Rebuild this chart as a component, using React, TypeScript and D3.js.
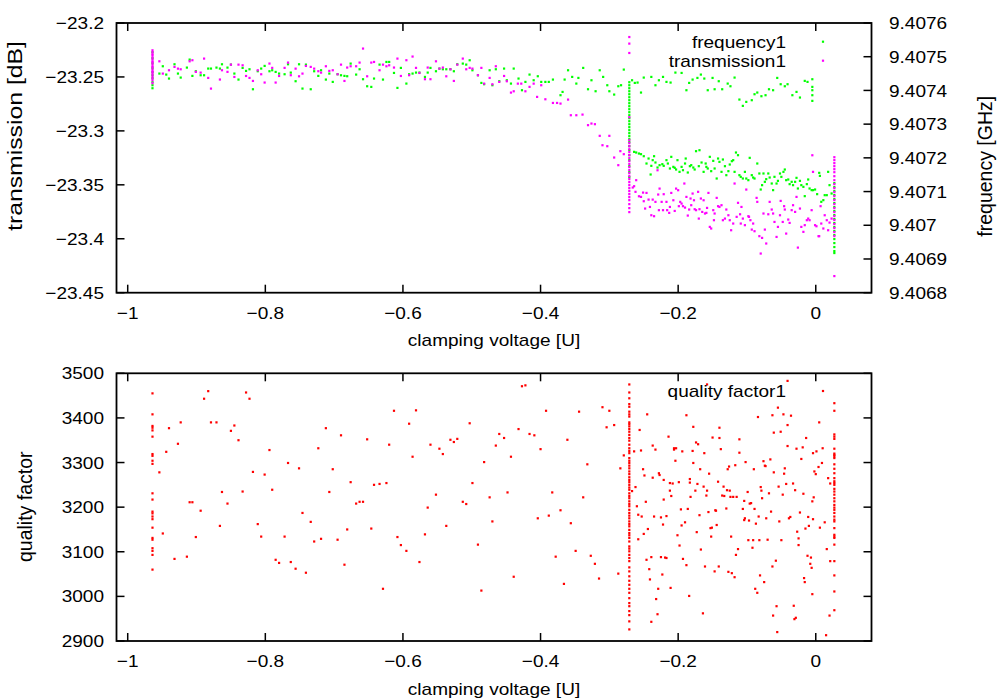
import React from "react";
import * as d3 from "d3";

// ---------- tick values ----------
const xTicks = [-1, -0.8, -0.6, -0.4, -0.2, 0];
const transTicks = [-23.2, -23.25, -23.3, -23.35, -23.4, -23.45];
const freqTicks = [9.4076, 9.4075, 9.4074, 9.4073, 9.4072, 9.4071, 9.407, 9.4069, 9.4068];
const qualityTicks = [3500, 3400, 3300, 3200, 3100, 3000, 2900];

// ---------- dense measurement columns (x positions) ----------
const columnX = [-0.964, -0.271, 0.027];

// ---------- quality factor ----------
const qualityColumns: number[][] = [
  [3455, 3408, 3382, 3378, 3372, 3358, 3319, 3315, 3304, 3297, 3231, 3217, 3190, 3186, 3179, 3173, 3154, 3131, 3127, 3108, 3102, 3093, 3060],
  [3475, 3457, 3444, 3431, 3425, 3414, 3408, 3403, 3390, 3386, 3381, 3375, 3369, 3362, 3355, 3349, 3340, 3332, 3326, 3321, 3310, 3304, 3299, 3293, 3287, 3280, 3274, 3267, 3261, 3256, 3250, 3244, 3239, 3231, 3225, 3220, 3213, 3207, 3202, 3194, 3187, 3181, 3175, 3168, 3162, 3157, 3149, 3142, 3137, 3131, 3123, 3112, 3107, 3101, 3093, 3086, 3079, 3065, 3056, 3045, 3035, 3026, 3017, 3008, 2996, 2985, 2978, 2967, 2958, 2944, 2926],
  [3433, 3416, 3363, 3358, 3353, 3331, 3320, 3317, 3314, 3310, 3296, 3286, 3276, 3265, 3258, 3254, 3250, 3241, 3235, 3228, 3220, 3213, 3205, 3199, 3194, 3187, 3179, 3172, 3168, 3153, 3138, 3134, 3131, 3116, 3079, 3047, 3011, 2969],
];

const qualityScatter: [number, number][] = [
  [-0.954, 3278], [-0.949, 3141], [-0.944, 3324], [-0.94, 3377], [-0.932, 3084], [-0.927, 3342], [-0.923, 3390], [-0.914, 3089], [-0.91, 3211], [-0.906, 3211],
  [-0.901, 3133], [-0.894, 3192], [-0.889, 3443], [-0.883, 3460], [-0.879, 3390], [-0.871, 3390], [-0.866, 3158], [-0.863, 3234], [-0.855, 3208], [-0.85, 3371],
  [-0.845, 3383], [-0.839, 3350], [-0.833, 3235], [-0.828, 3457], [-0.823, 3443], [-0.818, 3279], [-0.811, 3162], [-0.806, 3134], [-0.801, 3273], [-0.794, 3328],
  [-0.79, 3239], [-0.785, 3082], [-0.78, 3075], [-0.772, 3134], [-0.767, 3299], [-0.763, 3077], [-0.756, 3062], [-0.751, 3287], [-0.746, 3187], [-0.741, 3053],
  [-0.734, 3167], [-0.729, 3123], [-0.723, 3332], [-0.719, 3129], [-0.712, 3377], [-0.707, 3234], [-0.702, 3285], [-0.695, 3127], [-0.69, 3361], [-0.685, 3071],
  [-0.681, 3150], [-0.676, 3256], [-0.668, 3208], [-0.663, 3212], [-0.658, 3212], [-0.652, 3352], [-0.646, 3152], [-0.642, 3250], [-0.634, 3252], [-0.629, 3017],
  [-0.624, 3254], [-0.62, 3340], [-0.613, 3416], [-0.608, 3133], [-0.603, 3115], [-0.595, 3102], [-0.591, 3387], [-0.586, 3313], [-0.581, 3417], [-0.576, 3077],
  [-0.568, 3139], [-0.564, 3199], [-0.56, 3340], [-0.552, 3228], [-0.547, 3331], [-0.542, 3319], [-0.537, 3158], [-0.531, 3351], [-0.526, 3346], [-0.521, 3353],
  [-0.513, 3212], [-0.508, 3207], [-0.503, 3388], [-0.499, 3254], [-0.491, 3116], [-0.486, 3013], [-0.482, 3301], [-0.474, 3222],
  [-0.47, 3168], [-0.465, 3338], [-0.46, 3364], [-0.453, 3355], [-0.448, 3233], [-0.443, 3313], [-0.439, 3044], [-0.432, 3375], [-0.427, 3471], [-0.422, 3473],
  [-0.416, 3364], [-0.409, 3361], [-0.404, 3175], [-0.4, 3330], [-0.392, 3416], [-0.388, 3181], [-0.383, 3233], [-0.378, 3089], [-0.371, 3193], [-0.366, 3028],
  [-0.361, 3351], [-0.356, 3164], [-0.349, 3102], [-0.344, 3414], [-0.338, 3222], [-0.332, 3296], [-0.327, 3091], [-0.321, 3073], [-0.315, 3040], [-0.31, 3424],
  [-0.304, 3379], [-0.3, 3416], [-0.293, 3384], [-0.287, 3051], [-0.284, 3287], [-0.279, 3316],
  [-0.267, 3236], [-0.264, 3325], [-0.262, 3245], [-0.26, 3202], [-0.258, 3128], [-0.256, 3373], [-0.258, 3183], [-0.254, 3327], [-0.253, 3179], [-0.251, 3285],
  [-0.249, 3271], [-0.25, 3140], [-0.247, 3212], [-0.246, 3082], [-0.245, 3408], [-0.244, 3151], [-0.242, 3061], [-0.239, 3088], [-0.241, 3038], [-0.239, 2943],
  [-0.237, 3266], [-0.237, 3338], [-0.235, 3179], [-0.233, 3329], [-0.232, 2994], [-0.23, 2960], [-0.229, 3017], [-0.228, 3276], [-0.227, 3272], [-0.225, 3088],
  [-0.225, 3177], [-0.223, 3049], [-0.222, 3161], [-0.221, 3261], [-0.221, 3217], [-0.219, 3087], [-0.217, 3086], [-0.217, 3180], [-0.214, 3358], [-0.212, 3237],
  [-0.212, 3254], [-0.211, 3019], [-0.21, 3225], [-0.208, 3253], [-0.206, 3332], [-0.206, 3329], [-0.204, 3304], [-0.203, 3332], [-0.201, 3137], [-0.199, 3256],
  [-0.198, 3114], [-0.196, 3195], [-0.195, 3159], [-0.194, 3325], [-0.193, 3084], [-0.19, 3166], [-0.188, 3406], [-0.188, 3070], [-0.186, 3196], [-0.184, 3001],
  [-0.183, 3263], [-0.183, 3255], [-0.182, 3223], [-0.179, 3326], [-0.178, 3299], [-0.178, 3380], [-0.175, 3237], [-0.174, 3345], [-0.173, 3144], [-0.172, 3252],
  [-0.171, 3341], [-0.169, 3182], [-0.168, 3285], [-0.167, 3105], [-0.164, 2962], [-0.163, 3246], [-0.162, 3321], [-0.161, 3067], [-0.159, 3226], [-0.158, 3475],
  [-0.158, 3237], [-0.156, 3189], [-0.155, 3275], [-0.153, 3153], [-0.152, 3134], [-0.151, 3154], [-0.15, 3356], [-0.147, 3056], [-0.146, 3193], [-0.145, 3192],
  [-0.144, 3160], [-0.142, 3257], [-0.141, 3067], [-0.14, 3355], [-0.14, 3378], [-0.138, 3330], [-0.136, 3226], [-0.134, 3246], [-0.133, 3225], [-0.13, 3197],
  [-0.129, 3238], [-0.128, 3285], [-0.127, 3055], [-0.126, 3291], [-0.125, 3237], [-0.124, 3223], [-0.123, 3134], [-0.122, 3052], [-0.12, 3223], [-0.118, 3043],
  [-0.117, 3294], [-0.116, 3093], [-0.115, 3223], [-0.113, 3106], [-0.111, 3322], [-0.111, 3352], [-0.106, 3196], [-0.104, 3214], [-0.104, 3171], [-0.103, 3175],
  [-0.102, 3301], [-0.099, 3234], [-0.098, 3126], [-0.097, 3170], [-0.096, 3208], [-0.094, 3209], [-0.092, 3109], [-0.091, 3126], [-0.09, 3285], [-0.089, 3196],
  [-0.088, 3017], [-0.087, 3163], [-0.085, 3008], [-0.084, 3402], [-0.083, 3179], [-0.082, 3126], [-0.081, 3047], [-0.08, 3245], [-0.079, 3237], [-0.078, 3220],
  [-0.076, 3303], [-0.075, 3032], [-0.074, 3293], [-0.073, 3292], [-0.072, 3175], [-0.07, 3127], [-0.068, 3231], [-0.066, 3307], [-0.065, 3190], [-0.063, 3067],
  [-0.063, 3406], [-0.062, 2957], [-0.061, 3367], [-0.061, 3278], [-0.058, 3080], [-0.057, 2978], [-0.056, 2920], [-0.055, 3423], [-0.054, 3246], [-0.053, 3168],
  [-0.051, 3369], [-0.05, 3126], [-0.048, 3228], [-0.047, 3408], [-0.046, 3275], [-0.045, 3287], [-0.043, 3252], [-0.041, 3384], [-0.041, 3483], [-0.041, 3337],
  [-0.039, 3175], [-0.037, 3178], [-0.036, 3405], [-0.033, 3253], [-0.032, 2979], [-0.031, 2949], [-0.03, 3238], [-0.029, 2952], [-0.028, 3331], [-0.027, 3145],
  [-0.025, 3115], [-0.025, 3130], [-0.023, 3188], [-0.021, 3308], [-0.019, 3334], [-0.018, 3230], [-0.017, 3041], [-0.016, 3032], [-0.015, 3152], [-0.014, 3355],
  [-0.012, 3091], [-0.011, 3178], [-0.01, 3158], [-0.008, 3073], [-0.007, 3087], [-0.006, 3064], [-0.005, 3005], [-0.005, 3213], [-0.004, 3321], [-0.004, 3173],
  [-0.003, 3222], [-0.002, 3280], [0.0, 3274], [0.001, 3325], [0.004, 3290], [0.005, 3390], [0.006, 3154], [0.009, 3299], [0.01, 3332], [0.013, 3166],
  [0.015, 2913], [0.016, 3106], [0.018, 3265], [0.02, 2957], [0.021, 3079], [0.021, 3253],
];

// ---------- transmission (dB, left axis) ----------
const transmissionColumns: number[][] = [
  [-23.2253, -23.2271, -23.229, -23.2299, -23.2318, -23.2336, -23.2355, -23.2364, -23.2382, -23.2401, -23.241, -23.2429, -23.2447, -23.2457, -23.2475, -23.2494, -23.2512, -23.2531, -23.2558],
  [-23.213, -23.2191, -23.2278, -23.2873, -23.3086, -23.3114, -23.3142, -23.317, -23.3197, -23.3225, -23.3253, -23.3281, -23.3308, -23.3336, -23.3364, -23.3392, -23.342, -23.3447, -23.3475, -23.3503, -23.3531, -23.3558, -23.3586, -23.3614, -23.3642, -23.3679, -23.3716, -23.3753],
  [-23.3244, -23.3271, -23.3299, -23.3327, -23.3355, -23.3383, -23.342, -23.3457, -23.3494, -23.3531, -23.3568, -23.3605, -23.3642, -23.3679, -23.3716, -23.3753, -23.379, -23.3827, -23.3864, -23.3901, -23.3938, -23.3975, -23.4346],
];

const transmissionScatter: [number, number][] = [
  [-0.954, -23.2355], [-0.949, -23.2469], [-0.94, -23.2438], [-0.932, -23.2407], [-0.927, -23.2423], [-0.923, -23.2429], [-0.91, -23.2355], [-0.906, -23.2345], [-0.901, -23.2453], [-0.894, -23.246],
  [-0.889, -23.233], [-0.883, -23.2509], [-0.879, -23.2608], [-0.866, -23.2524], [-0.863, -23.2438], [-0.855, -23.2453], [-0.85, -23.2386], [-0.845, -23.25], [-0.839, -23.2386], [-0.833, -23.2392],
  [-0.828, -23.2491], [-0.823, -23.2509], [-0.818, -23.2537], [-0.811, -23.2438], [-0.806, -23.2475], [-0.801, -23.2552], [-0.794, -23.2376], [-0.79, -23.2416], [-0.785, -23.2552], [-0.78, -23.2491],
  [-0.772, -23.2416], [-0.767, -23.2367], [-0.763, -23.2484], [-0.756, -23.2423], [-0.751, -23.2494], [-0.746, -23.2469], [-0.741, -23.2398], [-0.734, -23.2407], [-0.729, -23.2423], [-0.723, -23.2447],
  [-0.719, -23.246], [-0.712, -23.2401], [-0.707, -23.2444], [-0.702, -23.2438], [-0.695, -23.2475], [-0.69, -23.2386], [-0.685, -23.2537], [-0.681, -23.2413], [-0.676, -23.2401], [-0.668, -23.2401],
  [-0.663, -23.2367], [-0.658, -23.2237], [-0.652, -23.2494], [-0.646, -23.2367], [-0.642, -23.2361], [-0.634, -23.2438], [-0.629, -23.2386], [-0.624, -23.2401], [-0.62, -23.2392], [-0.613, -23.2413],
  [-0.608, -23.233], [-0.603, -23.2491], [-0.595, -23.2345], [-0.591, -23.2484], [-0.586, -23.2311], [-0.581, -23.2416], [-0.576, -23.2463], [-0.568, -23.2521], [-0.564, -23.2413], [-0.56, -23.2521],
  [-0.552, -23.2355], [-0.547, -23.2423], [-0.542, -23.2413], [-0.537, -23.2494], [-0.531, -23.2429], [-0.526, -23.2537], [-0.521, -23.2386], [-0.513, -23.233], [-0.508, -23.2429], [-0.503, -23.2416],
  [-0.499, -23.2423], [-0.491, -23.2484], [-0.486, -23.2416], [-0.482, -23.2562], [-0.474, -23.2509], [-0.47, -23.2568], [-0.465, -23.2401], [-0.46, -23.2546],
  [-0.453, -23.2491], [-0.449, -23.254], [-0.443, -23.2645], [-0.439, -23.2633], [-0.433, -23.2562], [-0.428, -23.2562], [-0.422, -23.2633], [-0.416, -23.2592], [-0.41, -23.2562], [-0.405, -23.2685],
  [-0.399, -23.2577], [-0.393, -23.2707], [-0.382, -23.2741], [-0.376, -23.2741], [-0.371, -23.2747], [-0.36, -23.271], [-0.356, -23.2855], [-0.348, -23.2855], [-0.339, -23.2849], [-0.331, -23.2947],
  [-0.326, -23.2932], [-0.321, -23.2938],
  [-0.314, -23.3046], [-0.31, -23.3133], [-0.303, -23.3142], [-0.3, -23.3046], [-0.293, -23.3247], [-0.287, -23.3318], [-0.284, -23.3188], [-0.279, -23.3216],
  [-0.266, -23.3525], [-0.264, -23.3513], [-0.262, -23.3565], [-0.261, -23.3457], [-0.257, -23.3606], [-0.254, -23.3612], [-0.251, -23.3572], [-0.25, -23.3652], [-0.248, -23.372], [-0.246, -23.3575],
  [-0.243, -23.3637], [-0.241, -23.3705], [-0.239, -23.3782], [-0.237, -23.3637], [-0.235, -23.3791], [-0.233, -23.3658], [-0.23, -23.3365], [-0.229, -23.359], [-0.228, -23.3735], [-0.227, -23.3535],
  [-0.224, -23.3658], [-0.222, -23.3735], [-0.221, -23.3587], [-0.217, -23.3658], [-0.216, -23.3735], [-0.213, -23.376], [-0.212, -23.3705], [-0.21, -23.3575], [-0.207, -23.3643], [-0.205, -23.3742],
  [-0.203, -23.3535], [-0.2, -23.355], [-0.199, -23.3698], [-0.197, -23.3658], [-0.195, -23.3674], [-0.193, -23.3698], [-0.191, -23.3488], [-0.19, -23.3711], [-0.188, -23.3612], [-0.186, -23.3785],
  [-0.184, -23.3729], [-0.182, -23.3627], [-0.181, -23.3689], [-0.179, -23.3581], [-0.177, -23.3643], [-0.176, -23.3726], [-0.174, -23.3735], [-0.171, -23.3565], [-0.17, -23.3813], [-0.169, -23.3726],
  [-0.167, -23.3627], [-0.165, -23.3751], [-0.163, -23.3643], [-0.161, -23.3766], [-0.159, -23.376], [-0.158, -23.3714], [-0.156, -23.3575], [-0.154, -23.389], [-0.152, -23.3905], [-0.149, -23.3735],
  [-0.148, -23.3828], [-0.147, -23.3766], [-0.144, -23.3621], [-0.142, -23.3698], [-0.14, -23.3705], [-0.137, -23.3689], [-0.135, -23.3828], [-0.132, -23.3813], [-0.13, -23.3729], [-0.127, -23.3782],
  [-0.125, -23.3828], [-0.123, -23.3921], [-0.12, -23.3859], [-0.118, -23.3488], [-0.115, -23.3797], [-0.113, -23.3667], [-0.11, -23.3773], [-0.109, -23.3859], [-0.108, -23.3705], [-0.106, -23.3813],
  [-0.103, -23.3874], [-0.101, -23.3544], [-0.098, -23.3791], [-0.097, -23.3797], [-0.095, -23.3828], [-0.093, -23.3915], [-0.091, -23.3859], [-0.089, -23.393], [-0.086, -23.3621], [-0.085, -23.3658],
  [-0.082, -23.3976], [-0.08, -23.4137], [-0.078, -23.3992], [-0.076, -23.3766], [-0.074, -23.3915], [-0.072, -23.4044], [-0.069, -23.3773], [-0.067, -23.3658], [-0.064, -23.3729], [-0.062, -23.3766],
  [-0.06, -23.3844], [-0.057, -23.3983], [-0.055, -23.389], [-0.052, -23.3782], [-0.051, -23.3649], [-0.048, -23.3844], [-0.046, -23.3698], [-0.045, -23.3729], [-0.043, -23.3952], [-0.04, -23.3822],
  [-0.038, -23.3853], [-0.035, -23.3735], [-0.033, -23.3689], [-0.03, -23.3751], [-0.028, -23.3612], [-0.026, -23.4082], [-0.023, -23.372], [-0.021, -23.389], [-0.018, -23.3936], [-0.016, -23.3874],
  [-0.013, -23.3828], [-0.011, -23.3813], [-0.009, -23.3828], [-0.006, -23.3735], [-0.005, -23.3226], [-0.004, -23.338], [-0.001, -23.3874], [0.001, -23.3884], [0.004, -23.3976], [0.005, -23.3976],
  [0.007, -23.3698], [0.008, -23.3859], [0.011, -23.3905], [0.013, -23.3782], [0.016, -23.3828], [0.018, -23.3921], [0.02, -23.385], [0.023, -23.3813],
];

// ---------- frequency (GHz, right axis) ----------
const frequencyColumns: number[][] = [
  [9.4075132, 9.4074954, 9.4074806, 9.4074658, 9.4074539, 9.407445, 9.4074361, 9.4074243, 9.4074154, 9.4074065],
  [9.4074243, 9.4074154, 9.4074065, 9.4073976, 9.4073887, 9.4073798, 9.407371, 9.4073621, 9.4073532, 9.4073443, 9.4073354, 9.4073265, 9.4073176, 9.4073087, 9.4072998, 9.407291, 9.4072821, 9.4072732, 9.4072643, 9.4072554, 9.4072465, 9.4072347, 9.4072228, 9.407208, 9.4071932, 9.4071754, 9.4071576, 9.4071428],
  [9.407125, 9.4071132, 9.4071013, 9.4070895, 9.4070776, 9.4070658, 9.4070539, 9.4070421, 9.4070302, 9.4070184, 9.4070065, 9.4069947, 9.4069828, 9.406971, 9.4069591, 9.4069472, 9.4069354, 9.4069235, 9.4069176],
];

const frequencyScatter: [number, number][] = [
  [-0.954, 9.40745], [-0.949, 9.4074717], [-0.944, 9.407447], [-0.94, 9.4074352], [-0.932, 9.4074776], [-0.927, 9.40745], [-0.923, 9.4074381], [-0.914, 9.4074677], [-0.91, 9.4074915], [-0.906, 9.4074431],
  [-0.901, 9.4074569], [-0.894, 9.407445], [-0.889, 9.407445], [-0.883, 9.4074648], [-0.879, 9.4074648], [-0.871, 9.4074677], [-0.866, 9.4074648], [-0.863, 9.4074776], [-0.855, 9.4074677], [-0.85, 9.4074766],
  [-0.845, 9.40745], [-0.839, 9.4074322], [-0.833, 9.4074668], [-0.828, 9.4074579], [-0.823, 9.4074628], [-0.818, 9.4074035], [-0.811, 9.4074569], [-0.806, 9.4074648], [-0.801, 9.4074727], [-0.794, 9.4074569],
  [-0.79, 9.4074598], [-0.785, 9.4074549], [-0.78, 9.40745], [-0.772, 9.407448], [-0.767, 9.4074776], [-0.763, 9.4074529], [-0.756, 9.4074273], [-0.751, 9.4074776], [-0.746, 9.4074055], [-0.741, 9.4074766],
  [-0.734, 9.4074035], [-0.729, 9.4074569], [-0.723, 9.4074431], [-0.719, 9.4074598], [-0.712, 9.4074322], [-0.707, 9.40745], [-0.702, 9.4074253], [-0.695, 9.407448], [-0.69, 9.407445], [-0.685, 9.4074431],
  [-0.681, 9.4074421], [-0.676, 9.4074796], [-0.668, 9.407447], [-0.663, 9.4074628], [-0.658, 9.4074332], [-0.652, 9.4074124], [-0.646, 9.4074105], [-0.642, 9.4074352], [-0.634, 9.4074766], [-0.629, 9.4074322],
  [-0.624, 9.4074845], [-0.62, 9.4074845], [-0.613, 9.4074519], [-0.608, 9.4074075], [-0.603, 9.4074668], [-0.595, 9.4074203], [-0.591, 9.407448], [-0.586, 9.40745], [-0.581, 9.4074529], [-0.576, 9.4074529],
  [-0.568, 9.4074401], [-0.564, 9.4074529], [-0.56, 9.4074668], [-0.552, 9.4074569], [-0.547, 9.4074648], [-0.542, 9.4074628], [-0.537, 9.4074628], [-0.531, 9.4074628], [-0.526, 9.4074569], [-0.521, 9.4074776],
  [-0.513, 9.4074796], [-0.508, 9.4074766], [-0.503, 9.4074895], [-0.499, 9.4074598], [-0.491, 9.407445], [-0.486, 9.4074223], [-0.482, 9.4074184], [-0.474, 9.4074598], [-0.47, 9.4074154], [-0.465, 9.4074628],
  [-0.46, 9.4074273],
  [-0.453, 9.4074648], [-0.449, 9.4074302], [-0.443, 9.4074203], [-0.439, 9.4074648], [-0.432, 9.4074352], [-0.427, 9.4074006], [-0.422, 9.4074253], [-0.416, 9.407447], [-0.41, 9.4074302], [-0.404, 9.4074421],
  [-0.399, 9.4074253], [-0.393, 9.4074253], [-0.388, 9.4074253], [-0.382, 9.4074322], [-0.371, 9.4073858], [-0.368, 9.4073956], [-0.365, 9.4074322], [-0.36, 9.4074598], [-0.354, 9.4074401], [-0.348, 9.4074203],
  [-0.345, 9.4074371], [-0.338, 9.4074668], [-0.331, 9.4074035], [-0.326, 9.4074302], [-0.32, 9.4073976], [-0.314, 9.4074598], [-0.309, 9.4074401], [-0.303, 9.4074154], [-0.3, 9.4073976], [-0.293, 9.4073877],
  [-0.287, 9.4074124], [-0.283, 9.4074154], [-0.279, 9.4074618], [-0.267, 9.4074302], [-0.263, 9.4074223], [-0.259, 9.4074233], [-0.254, 9.4073937], [-0.25, 9.4074381], [-0.239, 9.4074401], [-0.233, 9.4074154],
  [-0.228, 9.4074302], [-0.222, 9.4074401], [-0.217, 9.4074253], [-0.211, 9.4074233], [-0.204, 9.4074529], [-0.195, 9.4074519], [-0.188, 9.4074006], [-0.184, 9.4074223], [-0.179, 9.4074322], [-0.172, 9.4074371],
  [-0.167, 9.407447], [-0.162, 9.4074352], [-0.157, 9.4074006], [-0.15, 9.4074371], [-0.147, 9.4074035], [-0.141, 9.4074273], [-0.136, 9.4074035], [-0.128, 9.4074203], [-0.124, 9.4074124], [-0.118, 9.4074381],
  [-0.111, 9.4073729], [-0.106, 9.4073542], [-0.101, 9.407366], [-0.093, 9.407371], [-0.089, 9.4073887], [-0.085, 9.4073937], [-0.079, 9.4073828], [-0.073, 9.4073858], [-0.068, 9.4074035], [-0.062, 9.4074006],
  [-0.056, 9.4074371], [-0.051, 9.4074184], [-0.045, 9.4074124], [-0.041, 9.4074184], [-0.034, 9.4073858], [-0.028, 9.4073956], [-0.023, 9.4073789], [-0.016, 9.4074283], [-0.012, 9.4074253], [-0.005, 9.4074332],
  [-0.005, 9.4074105], [-0.005, 9.4074006], [-0.005, 9.4073858], [-0.005, 9.407369],
  [-0.264, 9.4072178], [-0.261, 9.4072158], [-0.257, 9.4072128], [-0.254, 9.4072109], [-0.25, 9.4072049], [-0.246, 9.4071832], [-0.243, 9.407198], [-0.24, 9.4071506], [-0.239, 9.4071763], [-0.237, 9.4071931],
  [-0.235, 9.4072049], [-0.233, 9.4071862], [-0.23, 9.4071713], [-0.227, 9.4071783], [-0.223, 9.4071812], [-0.221, 9.4071763], [-0.217, 9.4071931], [-0.215, 9.4071832], [-0.212, 9.4071684], [-0.21, 9.407203],
  [-0.207, 9.4071733], [-0.205, 9.4071704], [-0.203, 9.4071654], [-0.201, 9.4071931], [-0.198, 9.4071585], [-0.195, 9.4071733], [-0.193, 9.4071634], [-0.19, 9.4071832], [-0.189, 9.407198], [-0.186, 9.4071565],
  [-0.183, 9.4071753], [-0.181, 9.4071783], [-0.178, 9.4071713], [-0.176, 9.4071654], [-0.174, 9.4072198], [-0.17, 9.4071753], [-0.169, 9.4072227], [-0.166, 9.4071862], [-0.163, 9.4071585], [-0.16, 9.4071832],
  [-0.159, 9.4071733], [-0.157, 9.4071684], [-0.154, 9.407203], [-0.152, 9.4071605], [-0.149, 9.4071911], [-0.147, 9.4071684], [-0.144, 9.4071387], [-0.142, 9.407198], [-0.14, 9.4071881], [-0.137, 9.4071585],
  [-0.135, 9.4071951], [-0.132, 9.4071753], [-0.13, 9.4071486], [-0.127, 9.4071605], [-0.125, 9.4071802], [-0.122, 9.4071901], [-0.12, 9.4071931], [-0.118, 9.4071585], [-0.116, 9.4072158], [-0.113, 9.4072079],
  [-0.111, 9.4071486], [-0.109, 9.4071437], [-0.106, 9.4071387], [-0.103, 9.4071585], [-0.101, 9.4071387], [-0.098, 9.4071338], [-0.096, 9.4072], [-0.093, 9.4071486], [-0.091, 9.4071417], [-0.089, 9.4071387],
  [-0.085, 9.4071832], [-0.082, 9.4071536], [-0.08, 9.4071061], [-0.078, 9.407119], [-0.076, 9.4071536], [-0.074, 9.4071289], [-0.072, 9.4071368], [-0.069, 9.4071536], [-0.067, 9.4071417], [-0.064, 9.4071239],
  [-0.062, 9.4071042], [-0.06, 9.4071437], [-0.057, 9.4071239], [-0.055, 9.4071318], [-0.052, 9.4071536], [-0.05, 9.4071437], [-0.047, 9.4071585], [-0.045, 9.4071654], [-0.043, 9.4071338], [-0.04, 9.4071358],
  [-0.038, 9.407122], [-0.035, 9.4071289], [-0.033, 9.407119], [-0.03, 9.4071289], [-0.028, 9.4071407], [-0.026, 9.4071091], [-0.023, 9.4071318], [-0.021, 9.407119], [-0.018, 9.407114], [-0.016, 9.4070864],
  [-0.013, 9.407122], [-0.011, 9.4071358], [-0.009, 9.4071091], [-0.006, 9.4071042], [-0.004, 9.4071042], [-0.001, 9.4071061], [0.002, 9.4070923], [0.005, 9.4071555], [0.006, 9.4071466], [0.008, 9.4070696],
  [0.011, 9.4070745], [0.013, 9.4070893], [0.016, 9.4070893], [0.018, 9.4071585], [0.02, 9.407119], [0.023, 9.4070943],
];

// ---------- legend labels ----------
const topLegend = ["frequency1", "transmission1"];
const bottomLegend = ["quality factor1"];

const COLORS = { freq: "#00ff00", trans: "#ff00ff", quality: "#ff0000" };
const FONT = "'Liberation Sans', Arial, Helvetica, sans-serif";
const FS = 17;
const SX = 1.12; // horizontal glyph stretch of the reference
const VFS = 19.5; // rotated label size

const top = { l: 116.5, r: 871.5, t: 23, b: 292.7 };
const bot = { l: 116.5, r: 871.5, t: 373.3, b: 641 };

const fmt = (v: number) => String(v).replace("-", "\u2212");

function HText({ x, y, anchor, children }: { x: number; y: number; anchor: string; children: React.ReactNode }) {
  return (
    <text transform={`translate(${x},${y}) scale(${SX},1)`} textAnchor={anchor} fontFamily={FONT} fontSize={FS} fill="#000">
      {children}
    </text>
  );
}

function VText({ x, y, len, children }: { x: number; y: number; len?: number; children: React.ReactNode }) {
  return (
    <text
      transform={`translate(${x},${y}) rotate(-90)`}
      textLength={len}
      lengthAdjust={len ? "spacingAndGlyphs" : undefined}
      fontFamily={FONT}
      fontSize={VFS}
      fill="#000"
    >
      {children}
    </text>
  );
}

function Dot({ x, y, c }: { x: number; y: number; c: string }) {
  return <rect x={x - 1.1} y={y - 1.1} width={2.2} height={2.2} fill={c} />;
}

export default function App() {
  const xTop = d3.scaleLinear().domain([-1.0163, 0.081]).range([top.l, top.r]);
  const xBot = d3.scaleLinear().domain([-1.0163, 0.081]).range([bot.l, bot.r]);
  const yT = d3.scaleLinear().domain([-23.45, -23.2]).range([top.b, top.t]);
  const yF = d3.scaleLinear().domain([9.4068, 9.4076]).range([top.b, top.t]);
  const yQ = d3.scaleLinear().domain([2900, 3500]).range([bot.b, bot.t]);
  const TL = 8;

  const freqPts: [number, number][] = [
    ...frequencyScatter,
    ...frequencyColumns.flatMap((col, i) => col.map((v) => [columnX[i], v] as [number, number])),
  ];
  const transPts: [number, number][] = [
    ...transmissionScatter,
    ...transmissionColumns.flatMap((col, i) => col.map((v) => [columnX[i], v] as [number, number])),
  ];
  const qualPts: [number, number][] = [
    ...qualityScatter,
    ...qualityColumns.flatMap((col, i) => col.map((v) => [columnX[i], v] as [number, number])),
  ];

  return (
    <div style={{ position: "fixed", left: 0, top: 0, width: 1000, height: 700, background: "#fff" }}>
      <svg width={1000} height={700} viewBox="0 0 1000 700" style={{ display: "block" }}>
        <defs>
          <clipPath id="clipTop">
            <rect x={top.l} y={top.t} width={top.r - top.l} height={top.b - top.t} />
          </clipPath>
          <clipPath id="clipBot">
            <rect x={bot.l} y={bot.t} width={bot.r - bot.l} height={bot.b - bot.t} />
          </clipPath>
        </defs>
        <rect x={0} y={0} width={1000} height={700} fill="#fff" />

        {/* ---------- top panel ---------- */}
        <g clipPath="url(#clipTop)">
          {freqPts.map(([x, v], i) => (
            <Dot key={"f" + i} x={xTop(x)} y={yF(v)} c={COLORS.freq} />
          ))}
          {transPts.map(([x, v], i) => (
            <Dot key={"t" + i} x={xTop(x)} y={yT(v)} c={COLORS.trans} />
          ))}
        </g>

        {xTicks.map((t) => (
          <g key={"xt" + t}>
            <line x1={xTop(t)} x2={xTop(t)} y1={top.b} y2={top.b - TL} stroke="#000" strokeWidth={1.5} />
            <line x1={xTop(t)} x2={xTop(t)} y1={top.t} y2={top.t + TL} stroke="#000" strokeWidth={1.5} />
            <HText x={xTop(t)} y={318.5} anchor="middle">{fmt(t)}</HText>
          </g>
        ))}
        {transTicks.map((t) => (
          <g key={"tt" + t}>
            <line x1={top.l} x2={top.l + TL} y1={yT(t)} y2={yT(t)} stroke="#000" strokeWidth={1.5} />
            <HText x={104} y={yT(t) + 6.1} anchor="end">{fmt(t)}</HText>
          </g>
        ))}
        {freqTicks.map((t) => (
          <g key={"ft" + t}>
            <line x1={top.r} x2={top.r - TL} y1={yF(t)} y2={yF(t)} stroke="#000" strokeWidth={1.5} />
            <HText x={889} y={yF(t) + 6.1} anchor="start">{fmt(t)}</HText>
          </g>
        ))}
        <rect x={top.l} y={top.t} width={top.r - top.l} height={top.b - top.t} fill="none" stroke="#000" strokeWidth={1.8} />

        <HText x={786} y={48} anchor="end">{topLegend[0]}</HText>
        <HText x={786} y={67} anchor="end">{topLegend[1]}</HText>
        <Dot x={823} y={41.7} c={COLORS.freq} />
        <Dot x={823} y={60.7} c={COLORS.trans} />

        <HText x={494} y={346} anchor="middle">clamping voltage [U]</HText>
        <VText x={22} y={231} len={190}>transmission [dB]</VText>
        <VText x={992} y={236.7}>frequency [GHz]</VText>

        {/* ---------- bottom panel ---------- */}
        <g clipPath="url(#clipBot)">
          {qualPts.map(([x, v], i) => (
            <Dot key={"q" + i} x={xBot(x)} y={yQ(v)} c={COLORS.quality} />
          ))}
        </g>
        {xTicks.map((t) => (
          <g key={"xb" + t}>
            <line x1={xBot(t)} x2={xBot(t)} y1={bot.b} y2={bot.b - TL} stroke="#000" strokeWidth={1.5} />
            <line x1={xBot(t)} x2={xBot(t)} y1={bot.t} y2={bot.t + TL} stroke="#000" strokeWidth={1.5} />
            <HText x={xBot(t)} y={667} anchor="middle">{fmt(t)}</HText>
          </g>
        ))}
        {qualityTicks.map((t) => (
          <g key={"qt" + t}>
            <line x1={bot.l} x2={bot.l + TL} y1={yQ(t)} y2={yQ(t)} stroke="#000" strokeWidth={1.5} />
            <line x1={bot.r} x2={bot.r - TL} y1={yQ(t)} y2={yQ(t)} stroke="#000" strokeWidth={1.5} />
            <HText x={104} y={yQ(t) + 6.1} anchor="end">{fmt(t)}</HText>
          </g>
        ))}
        <rect x={bot.l} y={bot.t} width={bot.r - bot.l} height={bot.b - bot.t} fill="none" stroke="#000" strokeWidth={1.8} />

        <HText x={786} y={397.4} anchor="end">{bottomLegend[0]}</HText>
        <Dot x={823} y={391} c={COLORS.quality} />

        <HText x={494} y={694.5} anchor="middle">clamping voltage [U]</HText>
        <VText x={32} y={562}>quality factor</VText>
      </svg>
    </div>
  );
}
